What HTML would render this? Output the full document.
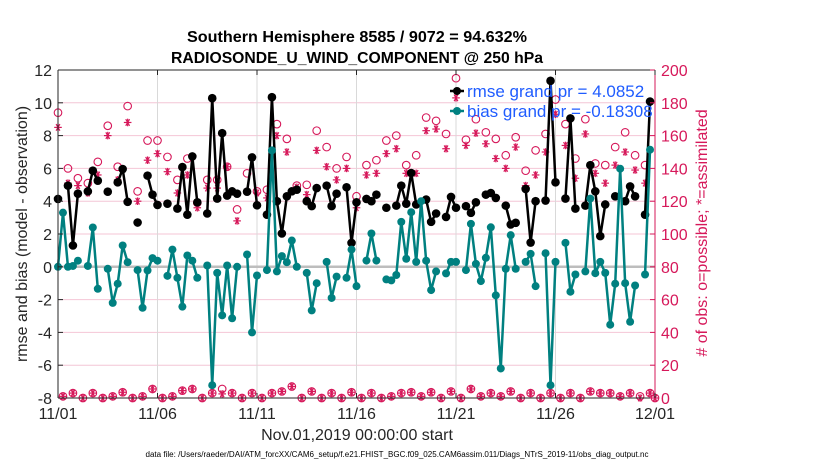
<!DOCTYPE html>
<html><head><meta charset="utf-8"><style>
html,body{margin:0;padding:0;background:#fff;}
svg{display:block;font-family:"Liberation Sans",Arial,sans-serif;}
</style></head><body>
<svg id="chart" width="830" height="470" viewBox="0 0 830 470" xmlns="http://www.w3.org/2000/svg">
<g id="grid"></g>
<g id="marks"></g>
<g id="axes"></g>
<text x="357" y="42" text-anchor="middle" font-size="16" font-weight="bold" textLength="340" lengthAdjust="spacingAndGlyphs">Southern Hemisphere 8585 / 9072 = 94.632%</text>
<text x="357" y="63" text-anchor="middle" font-size="16" font-weight="bold" textLength="372" lengthAdjust="spacingAndGlyphs">RADIOSONDE_U_WIND_COMPONENT @ 250 hPa</text>
<text transform="translate(27,234) rotate(-90)" text-anchor="middle" font-size="16" fill="#262626">rmse and bias (model - observation)</text>
<text transform="translate(707,233) rotate(-90)" text-anchor="middle" font-size="16" fill="#d6185a">#  of obs: o=possible; *=assimilated</text>
<text x="357" y="440" text-anchor="middle" font-size="16" fill="#262626">Nov.01,2019 00:00:00 start</text>
<text x="397" y="457" text-anchor="middle" font-size="8" fill="#000" textLength="503" lengthAdjust="spacingAndGlyphs">data file: /Users/raeder/DAI/ATM_forcXX/CAM6_setup/f.e21.FHIST_BGC.f09_025.CAM6assim.011/Diags_NTrS_2019-11/obs_diag_output.nc</text>
<g>
<g>
<line x1="450" y1="91" x2="464" y2="91" stroke="#000" stroke-width="2.5"/>
<circle cx="457" cy="91" r="4" fill="#000"/>
<text x="467" y="97" font-size="17" fill="#1f5cff">rmse grand pr = 4.0852</text></g>
<g>
<line x1="450" y1="111" x2="464" y2="111" stroke="#008080" stroke-width="2.5"/>
<circle cx="457" cy="111" r="4" fill="#008080"/>
<text x="467" y="117" font-size="17" fill="#1f5cff">bias grand pr = -0.18308</text></g>
</g>
</svg>
<script>
const xTickLabels=["11/01","11/06","11/11","11/16","11/21","11/26","12/01"];
const xTickDays=[0,5,10,15,20,25,30];
const yTicks=[12,10,8,6,4,2,0,-2,-4,-6,-8];
const rTicks=[200,180,160,140,120,100,80,60,40,20,0];
const rmse=[4.14,null,4.95,1.3,4.46,null,4.6,5.86,5.25,null,
4.58,null,5.15,5.96,3.96,null,2.7,null,5.56,4.4,
3.77,null,3.85,null,3.55,6.08,3.18,6.73,3.93,null,
3.25,10.28,4.16,8.15,4.34,4.6,4.46,null,4.58,6.67,
3.75,null,3.18,10.34,4.0,2.03,4.3,4.6,4.7,null,
4.0,3.7,4.8,null,4.95,3.7,4.46,null,4.85,1.46,
3.93,null,4.14,4.0,4.4,null,3.6,null,3.73,4.95,
3.85,5.72,3.8,null,4.1,2.74,3.25,null,3.04,4.26,
3.6,null,3.7,3.29,3.93,null,4.4,4.5,4.2,null,
3.73,2.58,2.68,null,4.75,1.48,4.0,null,4.04,11.34,
5.15,null,4.16,9.05,3.55,null,3.73,6.2,4.6,1.87,
3.8,null,4.3,null,4.0,4.9,4.3,null,3.18,10.08,null];
const bias=[0,3.3,0,0.05,0.37,null,0.05,2.4,-1.34,null,
-0.12,-2.2,-1.03,1.3,0.28,null,-0.2,-2.5,-0.22,0.53,
0.37,null,-0.55,1.05,-0.67,-2.43,0.69,0.37,-0.67,null,
0.08,-7.22,-0.37,-2.96,0.08,-3.14,0,null,0.75,-4.0,
-0.53,null,-0.2,7.1,-0.28,0.65,0.28,1.6,0,null,
-0.37,-2.66,-1.0,null,0.3,-1.9,-0.6,null,-0.67,1.05,
-1.18,null,0.38,2.03,0.38,null,-0.77,-0.83,-0.5,2.74,
0.49,3.33,0.3,4.0,0.37,-1.42,-0.28,null,-0.4,0.3,
0.3,null,-0.2,2.62,0.18,-0.87,0.55,2.41,-1.74,-6.2,
-0.12,1.93,-0.12,null,0.3,0.79,-1.18,null,0.83,-7.22,
0.3,null,1.46,-1.52,-0.47,null,-0.28,4.16,-0.39,0.3,
-0.37,-3.53,-1.03,5.98,-1.0,-3.35,-1.14,null,-0.47,7.14,null];
const possibleEven=[174,140,134,131,144,166,141,178,126,157,157,147,133,146,119,133,133,141,115,137,126,127,167,158,129.5,130,163,153,140,147,123,142,145,157,160,142,148,171,169,161,195,157.5,170,162,158,148,159,138.6,151,161,182,167,146,170,143,142,153,162,148,142,0];
const assimEven=[165,131,129.5,125,136,160,133,168,120,145,149,138,125,136,116,128,128,141,108,126,125,122,160,150,128.5,124,151,141,133,140,116,136,137,149,152,137,137,163,164,152,183,154,161.5,155,146,140,153,129.5,136,150,173,154,134,161,137,131,142,150,139,131,0];
const possibleOdd=[1,3,0,3,0,1,3.5,0,1,5.5,0,1,4.5,5.5,0,3,5.5,3,0,3,0,3,4,7,0,4,0,3,0,3.5,0,3,0,1,3,3.5,1,3.5,0,4,0,5.5,1,3,1,4,0,3,0,3,0,3,0,4,3,3,1,3,1,3];
const assimOdd=[1,3,0,3,0,1,3.5,0,1,5.5,0,1,4.5,5.5,0,3,2.5,3,0,3,0,3,4,7,0,4,0,3,0,3.5,0,3,0,1,3,3.5,1,3.5,0,4,0,5.5,1,3,1,4,0,3,0,3,0,3,0,4,3,3,1,3,0,3];

const NS="http://www.w3.org/2000/svg";
const X0=58,X1=655,Y0=70,Y1=398;
function xDay(d){return X0+(X1-X0)*d/30;}
function xSlot(i){return xDay(i*0.25);}
function yL(v){return Y1-(v+8)/20*(Y1-Y0);}
function yR(v){return Y1-v/200*(Y1-Y0);}
function mk(tag,attrs,parent){const e=document.createElementNS(NS,tag);for(const k in attrs)e.setAttribute(k,attrs[k]);parent.appendChild(e);return e;}
const grid=document.getElementById('grid'),marks=document.getElementById('marks'),axes=document.getElementById('axes');

yTicks.forEach(v=>{
  if(v!==12&&v!==-8&&v!==0){const l=mk('line',{x1:X0,x2:X1,y1:yL(v),y2:yL(v),stroke:'#f4c6d6','stroke-width':1},grid);
  
  }
});
xTickDays.forEach((d,k)=>{
  if(k>0&&k<xTickDays.length-1){const l=mk('line',{x1:xDay(d),x2:xDay(d),y1:Y0,y2:Y1,stroke:'#d9d9d9','stroke-width':1},grid);
  
  }
});
const zl=mk('line',{x1:X0,x2:X1,y1:yL(0),y2:yL(0),stroke:'#bdbdbd','stroke-width':2.5},grid);



// obs counts
function star(cx,cy,name){
  const g=mk('g',{stroke:'#d6185a','stroke-width':1.2},marks);
  
  
  const r=3.8;
  [[r,0],[r*0.5,r*0.87],[-r*0.5,r*0.87]].forEach(p=>mk('line',{x1:cx-p[0],y1:cy-p[1],x2:cx+p[0],y2:cy+p[1]},g));
  mk('line',{x1:cx,y1:cy-r,x2:cx,y2:cy+r},g);
}
function obsCircle(cx,cy){
  const c=mk('circle',{cx:cx,cy:cy,r:3.8,fill:'none',stroke:'#d6185a','stroke-width':1.1},marks);
  
  
}
possibleEven.forEach((v,k)=>obsCircle(xSlot(2*k),yR(v)));
possibleOdd.forEach((v,k)=>obsCircle(xSlot(2*k+1),yR(v)));
assimEven.forEach((v,k)=>star(xSlot(2*k),yR(v),'assimilated-obs-marker'));
assimOdd.forEach((v,k)=>star(xSlot(2*k+1),yR(v),'assimilated-obs-marker'));

function series(arr,color,name,r){
  let seg=[];
  const segs=[];
  arr.forEach((v,i)=>{if(v===null){if(seg.length)segs.push(seg);seg=[];}else seg.push([xSlot(i),yL(v)]);});
  if(seg.length)segs.push(seg);
  segs.forEach(s=>{if(s.length>1){const p=mk('polyline',{points:s.map(q=>q.join(',')).join(' '),fill:'none',stroke:color,'stroke-width':2.5,'stroke-linejoin':'round'},marks);
    
    }});
  arr.forEach((v,i)=>{if(v!==null){const c=mk('circle',{cx:xSlot(i),cy:yL(v),r:r,fill:color},marks);
    
    }});
}
series(rmse,'#000','rmse',4.3);
series(bias,'#008080','bias',4);

// axes
mk('line',{x1:X0,x2:X1,y1:Y0,y2:Y0,stroke:'#262626','stroke-width':1},axes);
mk('line',{x1:X0,x2:X1,y1:Y1,y2:Y1,stroke:'#262626','stroke-width':1},axes);
mk('line',{x1:X0,x2:X0,y1:Y0,y2:Y1,stroke:'#262626','stroke-width':1},axes);
mk('line',{x1:X1,x2:X1,y1:Y0,y2:Y1,stroke:'#d6185a','stroke-width':1},axes);
yTicks.forEach(v=>{
  mk('line',{x1:X0,x2:X0+5,y1:yL(v),y2:yL(v),stroke:'#262626'},axes);
  const t=mk('text',{x:X0-6,y:yL(v)+6,'text-anchor':'end','font-size':16,fill:'#262626'},axes);
  t.textContent=v;
  
  
});
rTicks.forEach(v=>{
  mk('line',{x1:X1-5,x2:X1,y1:yR(v),y2:yR(v),stroke:'#d6185a'},axes);
  const t=mk('text',{x:X1+6,y:yR(v)+6,'font-size':16,fill:'#d6185a'},axes);
  t.textContent=v;
  
  
});
xTickDays.forEach((d,k)=>{
  mk('line',{x1:xDay(d),x2:xDay(d),y1:Y1,y2:Y1-5,stroke:'#262626'},axes);
  mk('line',{x1:xDay(d),x2:xDay(d),y1:Y0,y2:Y0+5,stroke:'#262626'},axes);
  const t=mk('text',{x:xDay(d),y:419,'text-anchor':'middle','font-size':16,fill:'#262626'},axes);
  t.textContent=xTickLabels[k];
  
  
});
</script>
</body></html>
